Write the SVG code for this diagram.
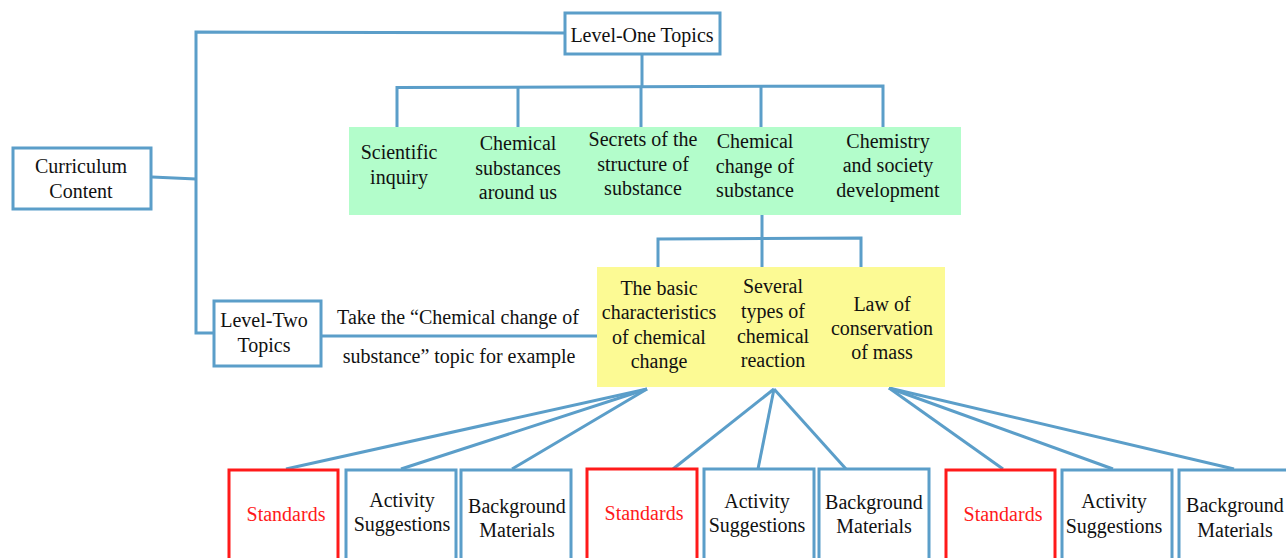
<svg xmlns="http://www.w3.org/2000/svg" width="1286" height="558" viewBox="0 0 1286 558">
<style>
.t{font-family:"Liberation Serif","Times New Roman",serif;font-size:20px;fill:#111;text-anchor:middle}
.r{fill:#ff1a1a}
.box{fill:#fff;stroke:#5b9ec9;stroke-width:3}
.red{fill:#fff;stroke:#ff1a1a;stroke-width:3}
.ln{fill:none;stroke:#5b9ec9;stroke-width:3;stroke-linejoin:miter}
</style>
<rect width="1286" height="558" fill="#fff"/>
<g id="connectors">
<polyline class="ln" points="565,33 196,32 196,333 213,333"/>
<line class="ln" x1="152" y1="177" x2="196" y2="179"/>
<line class="ln" x1="642" y1="54" x2="642" y2="87"/>
<polyline class="ln" points="397,127 397,87.5 883,86 883,127"/>
<line class="ln" x1="518" y1="87" x2="518" y2="127"/>
<line class="ln" x1="641" y1="87" x2="641" y2="127"/>
<line class="ln" x1="761" y1="87" x2="761" y2="127"/>
<line class="ln" x1="762" y1="215" x2="762" y2="267"/>
<polyline class="ln" points="658,267 658,239 861,238 861,267"/>
<line class="ln" x1="321" y1="336" x2="597" y2="336"/>
<line class="ln" x1="647" y1="389" x2="286" y2="469"/>
<line class="ln" x1="647" y1="389" x2="401" y2="469"/>
<line class="ln" x1="647" y1="389" x2="512" y2="469"/>
<line class="ln" x1="774" y1="389" x2="673" y2="469"/>
<line class="ln" x1="774" y1="389" x2="758" y2="469"/>
<line class="ln" x1="774" y1="389" x2="846" y2="469"/>
<line class="ln" x1="889" y1="388" x2="1003" y2="469"/>
<line class="ln" x1="889" y1="388" x2="1113" y2="469"/>
<line class="ln" x1="889" y1="388" x2="1234" y2="469"/>
</g>
<g id="curriculum-content">
<rect class="box" x="13" y="148" width="138" height="61"/>
<text class="t" x="81" y="173">Curriculum</text>
<text class="t" x="81" y="198">Content</text>
</g>
<g id="level-one">
<rect class="box" x="565" y="13" width="155" height="41"/>
<text class="t" x="642" y="42">Level-One Topics</text>
</g>
<g id="level-one-topics">
<rect x="349" y="127" width="612" height="88" fill="#b3fdcb"/>
<text class="t" x="399" y="159">Scientific</text>
<text class="t" x="399" y="184">inquiry</text>
<text class="t" x="518" y="150">Chemical</text>
<text class="t" x="518" y="175">substances</text>
<text class="t" x="518" y="199">around us</text>
<text class="t" x="643" y="146">Secrets of the</text>
<text class="t" x="643" y="171">structure of</text>
<text class="t" x="643" y="195">substance</text>
<text class="t" x="755" y="148">Chemical</text>
<text class="t" x="755" y="173">change of</text>
<text class="t" x="755" y="197">substance</text>
<text class="t" x="888" y="148">Chemistry</text>
<text class="t" x="888" y="172">and society</text>
<text class="t" x="888" y="197">development</text>
</g>
<g id="level-two">
<rect class="box" x="214" y="301" width="107" height="65"/>
<text class="t" x="264" y="327">Level-Two</text>
<text class="t" x="264" y="352">Topics</text>
</g>
<g id="example-label">
<text class="t" x="458" y="324">Take the “Chemical change of</text>
<text class="t" x="459" y="363">substance” topic for example</text>
</g>
<g id="level-two-topics">
<rect x="597" y="267" width="348" height="120" fill="#fcfa94"/>
<text class="t" x="659" y="295">The basic</text>
<text class="t" x="659" y="319">characteristics</text>
<text class="t" x="659" y="344">of chemical</text>
<text class="t" x="659" y="368">change</text>
<text class="t" x="773" y="293">Several</text>
<text class="t" x="773" y="318">types of</text>
<text class="t" x="773" y="343">chemical</text>
<text class="t" x="773" y="367">reaction</text>
<text class="t" x="882" y="311">Law of</text>
<text class="t" x="882" y="335">conservation</text>
<text class="t" x="882" y="359">of mass</text>
</g>
<g id="standards-1">
<rect class="red" x="229" y="470" width="109" height="100"/>
<text class="t r" x="286" y="521">Standards</text>
</g>
<g id="activity-1">
<rect class="box" x="346" y="470" width="110" height="100"/>
<text class="t" x="402" y="507">Activity</text>
<text class="t" x="402" y="531">Suggestions</text>
</g>
<g id="background-1">
<rect class="box" x="461" y="470" width="110" height="100"/>
<text class="t" x="517" y="513">Background</text>
<text class="t" x="517" y="537">Materials</text>
</g>
<g id="standards-2">
<rect class="red" x="587" y="469" width="110" height="100"/>
<text class="t r" x="644" y="520">Standards</text>
</g>
<g id="activity-2">
<rect class="box" x="704" y="469" width="110" height="100"/>
<text class="t" x="757" y="508">Activity</text>
<text class="t" x="757" y="532">Suggestions</text>
</g>
<g id="background-2">
<rect class="box" x="819" y="469" width="110" height="100"/>
<text class="t" x="874" y="509">Background</text>
<text class="t" x="874" y="533">Materials</text>
</g>
<g id="standards-3">
<rect class="red" x="946" y="470" width="109" height="100"/>
<text class="t r" x="1003" y="521">Standards</text>
</g>
<g id="activity-3">
<rect class="box" x="1062" y="470" width="110" height="100"/>
<text class="t" x="1114" y="508">Activity</text>
<text class="t" x="1114" y="533">Suggestions</text>
</g>
<g id="background-3">
<rect class="box" x="1179" y="470" width="110" height="100"/>
<text class="t" x="1235" y="512">Background</text>
<text class="t" x="1235" y="537">Materials</text>
</g>
</svg>
